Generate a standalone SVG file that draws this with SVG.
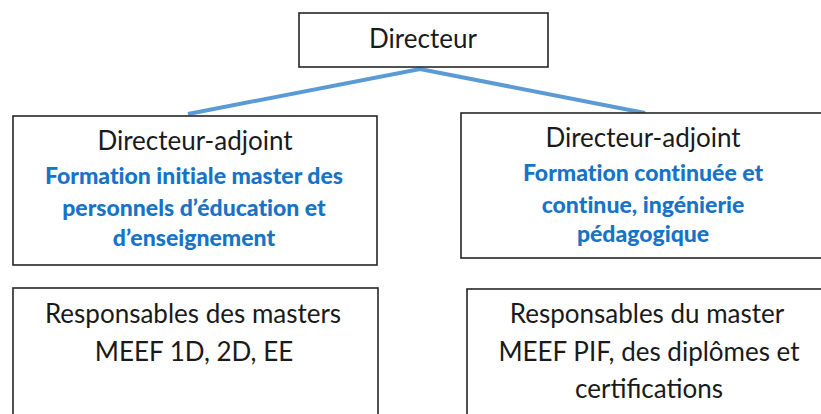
<svg xmlns="http://www.w3.org/2000/svg" width="821" height="414" viewBox="0 0 821 414">
<style>
.box{fill:#fff;stroke:#262626;stroke-width:1.6}
.t{font-family:Lato,"Liberation Sans",sans-serif;font-size:26px;fill:#1a1a1a;text-anchor:middle}
.b{font-family:Lato,"Liberation Sans",sans-serif;font-size:23px;font-weight:900;fill:#1773c6;text-anchor:middle;font-variant-ligatures:none}
.c{fill:none;stroke:#5b9bd5;stroke-width:4;stroke-linecap:butt}
</style>
<rect width="821" height="414" fill="#fff"/>
<g id="connectors">
<path class="c" d="M188,114 L420,69 L645,113"/>
</g>
<g id="directeur">
<rect class="box" x="299" y="13" width="249" height="54"/>
<text class="t" x="423" y="48">Directeur</text>
</g>
<g id="adjoint-initiale">
<rect class="box" x="13" y="116" width="364" height="149"/>
<text class="t" x="195" y="150">Directeur-adjoint</text>
<text class="b" x="194" y="184">Formation initiale master des</text>
<text class="b" x="194" y="216">personnels d’éducation et</text>
<text class="b" x="194" y="246">d’enseignement</text>
</g>
<g id="adjoint-continue">
<rect class="box" x="461" y="113" width="370" height="145"/>
<text class="t" x="643" y="147">Directeur-adjoint</text>
<text class="b" x="643" y="181">Formation continuée et</text>
<text class="b" x="643" y="213">continue, ingénierie</text>
<text class="b" x="643" y="242">pédagogique</text>
</g>
<g id="resp-masters">
<rect class="box" x="13" y="288" width="365" height="140"/>
<text class="t" x="193" y="323">Responsables des masters</text>
<text class="t" x="194" y="361">MEEF 1D, 2D, EE</text>
</g>
<g id="resp-pif">
<rect class="box" x="467" y="289" width="370" height="140"/>
<text class="t" x="647" y="323">Responsables du master</text>
<text class="t" x="649" y="361">MEEF PIF, des diplômes et</text>
<text class="t" x="649" y="398">certifications</text>
</g>
</svg>
